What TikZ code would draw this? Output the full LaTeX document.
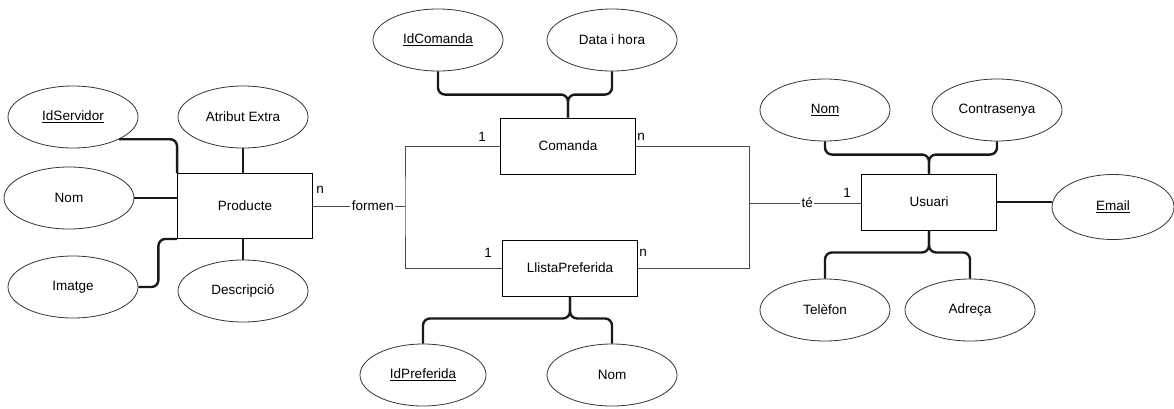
\documentclass[tikz,border=0pt]{standalone}
\usepackage{fontspec}
\setmainfont{Liberation Sans}
\usepackage{xcolor}
\usepackage{tikz}
\usetikzlibrary{shapes.geometric,calc}
\definecolor{edgec}{HTML}{333333}
\definecolor{relc}{HTML}{4A4A4A}
\newcommand{\clau}[1]{\underline{#1}}
\newcommand{\erfont}{\fontsize{13.5}{16}\selectfont}
\tikzset{
  ent/.style={draw=black,line width=0.9pt,minimum width=135pt,minimum height=56pt,
    inner sep=0pt,font=\erfont},
  attr/.style={ellipse,draw=edgec,line width=0.8pt,minimum width=130pt,
    minimum height=62pt,inner sep=0pt,font=\erfont},
  attrline/.style={line width=2.4pt,draw=black!90,rounded corners=7pt},
  rel/.style={line width=1pt,draw=relc},
  rlab/.style={fill=white,inner sep=1.5pt,font=\erfont},
  card/.style={inner sep=0pt,font=\erfont},
}
\begin{document}
\begin{tikzpicture}[x=1pt,y=-1pt]
  \useasboundingbox (0,0) rectangle (1174,408);
  % entitats
  \node[ent,minimum height=65pt](prod) at (245,206){Producte};
  \node[ent](com) at (568,146){Comanda};
  \node[ent](lp) at (570,268){LlistaPreferida};
  \node[ent](usu) at (929,202){Usuari};
  % atributs
  \node[attr](idserv) at (73,117){\clau{IdServidor}};
  \node[attr](atrib) at (243,117){Atribut Extra};
  \node[attr](nomp) at (69,198){Nom};
  \node[attr](imatge) at (73,287){Imatge};
  \node[attr](desc) at (243,291){Descripció};
  \node[attr](idcom) at (438,40){\clau{IdComanda}};
  \node[attr](datah) at (612,40){Data i hora};
  \node[attr,minimum width=126pt](idpref) at (423,375){\clau{IdPreferida}};
  \node[attr](nompref) at (612,375){Nom};
  \node[attr](nomu) at (825,110){\clau{Nom}};
  \node[attr](contra) at (997,110){Contrasenya};
  \node[attr](tel) at (825,310){Telèfon};
  \node[attr](adreca) at (970,310){Adreça};
  \node[attr,minimum width=122pt,minimum height=65pt](email) at (1113,207){\clau{Email}};
  \draw[attrline](idserv.south east) -| (prod.north west);
  \draw[attrline](nomp.east) -- (nomp.east -| prod.west);
  \draw[attrline](imatge.east) -- ++(20,0) |- (prod.south west);
  \draw[attrline](atrib.south) -- (atrib.south |- prod.north);
  \draw[attrline](desc.north) -- (desc.north |- prod.south);
  \draw[attrline](idcom.south) |- ([yshift=23pt]com.north) -- (com.north);
  \draw[attrline](datah.south) |- ([yshift=23pt]com.north) -- (com.north);
  \draw[attrline](lp.south) -- ([yshift=-22pt]lp.south) -| (idpref.north);
  \draw[attrline](lp.south) -- ([yshift=-22pt]lp.south) -| (nompref.north);
  \draw[attrline](nomu.south) |- ([yshift=19pt]usu.north) -- (usu.north);
  \draw[attrline](contra.south) |- ([yshift=19pt]usu.north) -- (usu.north);
  \draw[attrline](usu.south) -- ([yshift=-22pt]usu.south) -| (tel.north);
  \draw[attrline](usu.south) -- ([yshift=-22pt]usu.south) -| (adreca.north);
  \draw[attrline](usu.east) -- (usu.east -| email.west);
  % relacions
  \coordinate (fj) at (405,206);
  \coordinate (tj) at (749,203);
  \draw[rel](com.west) -| (fj) |- (lp.west);
  \draw[rel](com.east) -| (tj) |- (lp.east);
  \draw[rel](prod.east) -- node[rlab,pos=.65](formen){formen} (fj);
  \draw[rel](tj) -- node[rlab,pos=.52](te){té} (tj -| usu.west);
  \node[card](cprod) at (320,190){n};
  \node[card](ccom1) at (482,137){1};
  \node[card](ccomn) at (641,137){n};
  \node[card](clp1) at (488,253){1};
  \node[card](clpn) at (643,253){n};
  \node[card](cusu) at (847,193){1};
\end{tikzpicture}
\end{document}
